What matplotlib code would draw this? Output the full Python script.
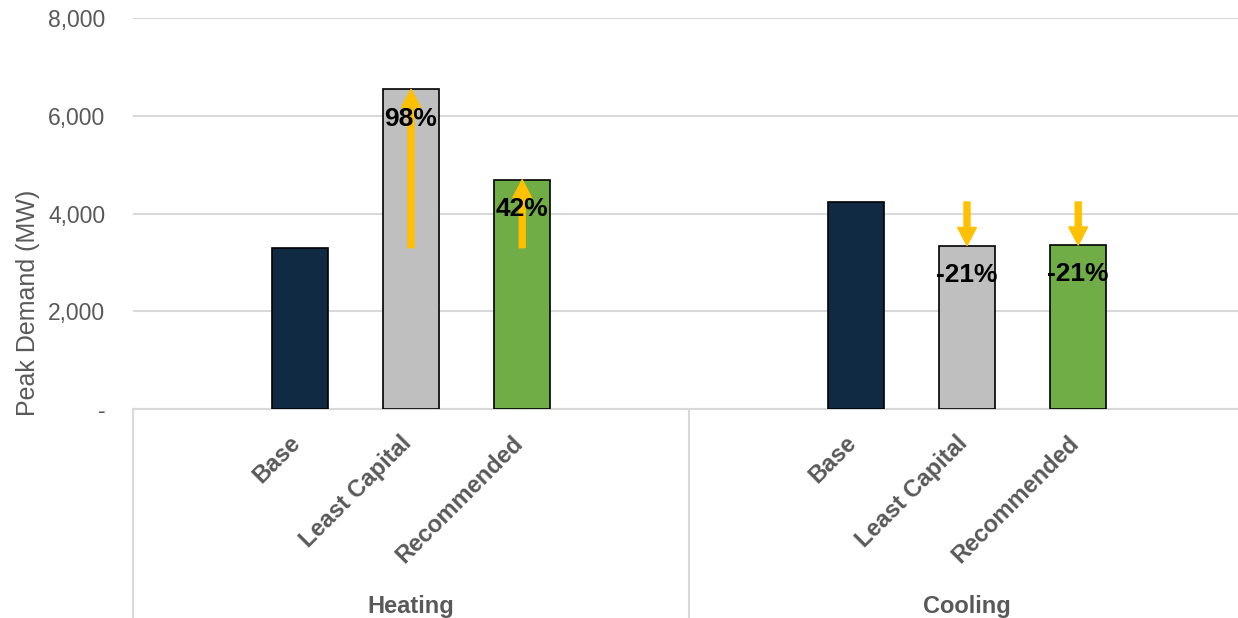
import matplotlib.pyplot as plt
from matplotlib.ticker import FuncFormatter

plt.rcParams['font.family'] = ['Liberation Sans', 'DejaVu Sans']

groups = ['Heating', 'Cooling']
scenarios = ['Base', 'Least Capital', 'Recommended']
heating_mw = [3300, 6540, 4690]
cooling_mw = [4235, 3345, 3355]
bar_colors = ['#0F2A42', '#BFBFBF', '#70AD47']
y_ticks = [0, 2000, 4000, 6000, 8000]

gray = '#595959'
grid_gray = '#D9D9D9'
arrow_yellow = '#FFC000'

fig = plt.figure(figsize=(12.38, 6.18), dpi=100)
# axes run a little past the right edge of the figure
ax = fig.add_axes([133 / 1238, 209 / 618, 1112 / 1238, 391 / 618])

slots = 5  # one empty slot each side of the three bars
for g, (group, values) in enumerate(zip(groups, [heating_mw, cooling_mw])):
    start = g * slots
    xs = [start + 1.5 + i for i in range(len(scenarios))]
    ax.bar(xs, values, width=0.5, color=bar_colors, edgecolor='black',
           linewidth=1.2, zorder=3)

    base = values[0]
    for x, v in zip(xs[1:], values[1:]):
        # change arrow from the base value to this bar
        ax.annotate('', xy=(x, v), xytext=(x, base),
                    arrowprops=dict(width=4.3, headwidth=13.5, headlength=13,
                                    color=arrow_yellow, shrink=0),
                    zorder=4)
        pct = round((v / base - 1) * 100)
        ax.annotate(f'{pct}%', xy=(x, v), xytext=(0, -21),
                    textcoords='offset points', ha='center', va='center',
                    fontsize=19, fontweight='bold', color='black', zorder=5)

    for x, name in zip(xs, scenarios):
        ax.text(x - 0.1, -0.058, name, transform=ax.get_xaxis_transform(),
                rotation=45, rotation_mode='anchor', ha='right', va='top',
                fontsize=17, fontweight='bold', color=gray)

    ax.text(start + slots / 2, -0.505, group, transform=ax.get_xaxis_transform(),
            ha='center', va='center', fontsize=17, fontweight='bold', color=gray)
    ax.plot([start, start], [0, -0.54], transform=ax.get_xaxis_transform(),
            color=grid_gray, linewidth=1.5, clip_on=False)

ax.set_xlim(0, slots * len(groups))
ax.set_ylim(0, 8000)
ax.set_yticks(y_ticks)
ax.yaxis.set_major_formatter(FuncFormatter(lambda v, p: '-' if v == 0 else f'{v:,.0f}'))
ax.tick_params(axis='y', length=0, pad=20, labelsize=16.5, labelcolor=gray)
ax.tick_params(axis='x', length=0, labelbottom=False)
ax.grid(axis='y', color=grid_gray, linewidth=1.5, zorder=0)
ax.set_axisbelow(True)

for side in ['top', 'right', 'left']:
    ax.spines[side].set_visible(False)
ax.spines['bottom'].set_color(grid_gray)
ax.spines['bottom'].set_linewidth(1.5)

ax.set_ylabel('Peak Demand (MW)', fontsize=18, color=gray)
ax.yaxis.set_label_coords(-0.0836, 0.271)

fig.savefig('out.png', dpi=100)
